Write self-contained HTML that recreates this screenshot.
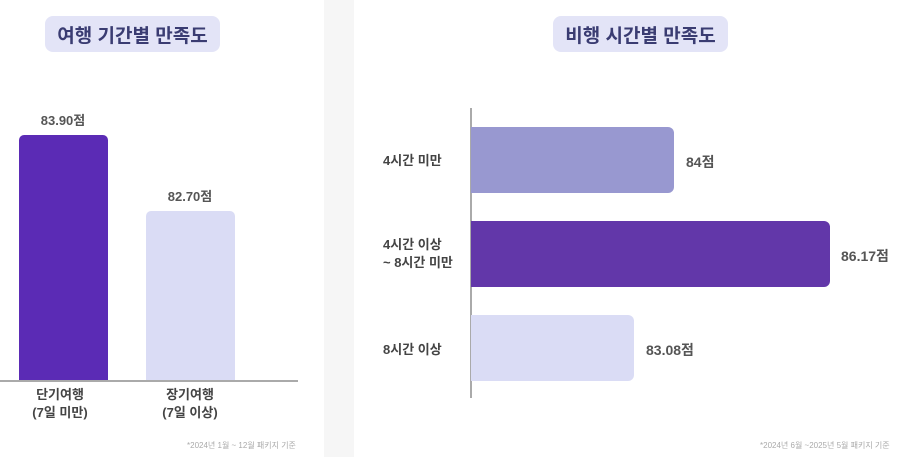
<!DOCTYPE html>
<html><head><meta charset="utf-8"><style>
*{margin:0;padding:0;box-sizing:border-box}
body{width:900px;height:457px;position:relative;background:#fff;overflow:hidden;font-family:"Liberation Sans","Noto Sans CJK KR",sans-serif;}
.a{position:absolute;white-space:nowrap}
.title{background:#e3e4f7;border-radius:8px;color:#3a3c72;font-weight:bold;font-size:19px;display:flex;align-items:center;justify-content:center}
.v{color:#555;font-weight:bold;font-size:13px}
.c{color:#444;font-weight:bold;font-size:13px;line-height:18px;text-align:center}
.f{color:#aaa;font-size:8px}
</style></head><body>
<div class="a" style="left:324px;top:0;width:30px;height:457px;background:#f6f6f6"></div>
<div class="a title" style="left:45px;top:16px;width:175px;height:36px">여행 기간별 만족도</div>
<div class="a" style="left:19px;top:135px;width:89px;height:246px;background:#5b2bb5;border-radius:5px 5px 0 0"></div>
<div class="a" style="left:146px;top:211px;width:89px;height:170px;background:#dadcf5;border-radius:5px 5px 0 0"></div>
<div class="a" style="left:0;top:380px;width:298px;height:1.5px;background:#aaa"></div>
<div class="a v" style="left:33px;top:110px;width:60px;text-align:center">83.90점</div>
<div class="a v" style="left:160px;top:186px;width:60px;text-align:center">82.70점</div>
<div class="a c" style="left:20px;top:386px;width:80px">단기여행<br>(7일 미만)</div>
<div class="a c" style="left:150px;top:386px;width:80px">장기여행<br>(7일 이상)</div>
<div class="a f" style="left:187px;top:440px">*2024년 1월 ~ 12월 패키지 기준</div>

<div class="a title" style="left:553px;top:16px;width:175px;height:36px">비행 시간별 만족도</div>
<div class="a" style="left:470px;top:108px;width:1.5px;height:290px;background:#aaa"></div>
<div class="a" style="left:471px;top:127px;width:203px;height:66px;background:#9898d0;border-radius:0 6px 6px 0"></div>
<div class="a" style="left:471px;top:221px;width:359px;height:66px;background:#6237a9;border-radius:0 6px 6px 0"></div>
<div class="a" style="left:471px;top:315px;width:163px;height:66px;background:#dadcf5;border-radius:0 6px 6px 0"></div>
<div class="a v" style="left:686px;top:152px;font-size:14px">84점</div>
<div class="a v" style="left:841px;top:246px;font-size:14px">86.17점</div>
<div class="a v" style="left:646px;top:340px;font-size:14px">83.08점</div>
<div class="a c" style="left:383px;top:152px;text-align:left">4시간 미만</div>
<div class="a c" style="left:383px;top:236px;text-align:left">4시간 이상<br>~ 8시간 미만</div>
<div class="a c" style="left:383px;top:341px;text-align:left">8시간 이상</div>
<div class="a f" style="left:760px;top:440px">*2024년 6월 ~2025년 5월 패키지 기준</div>
</body></html>
